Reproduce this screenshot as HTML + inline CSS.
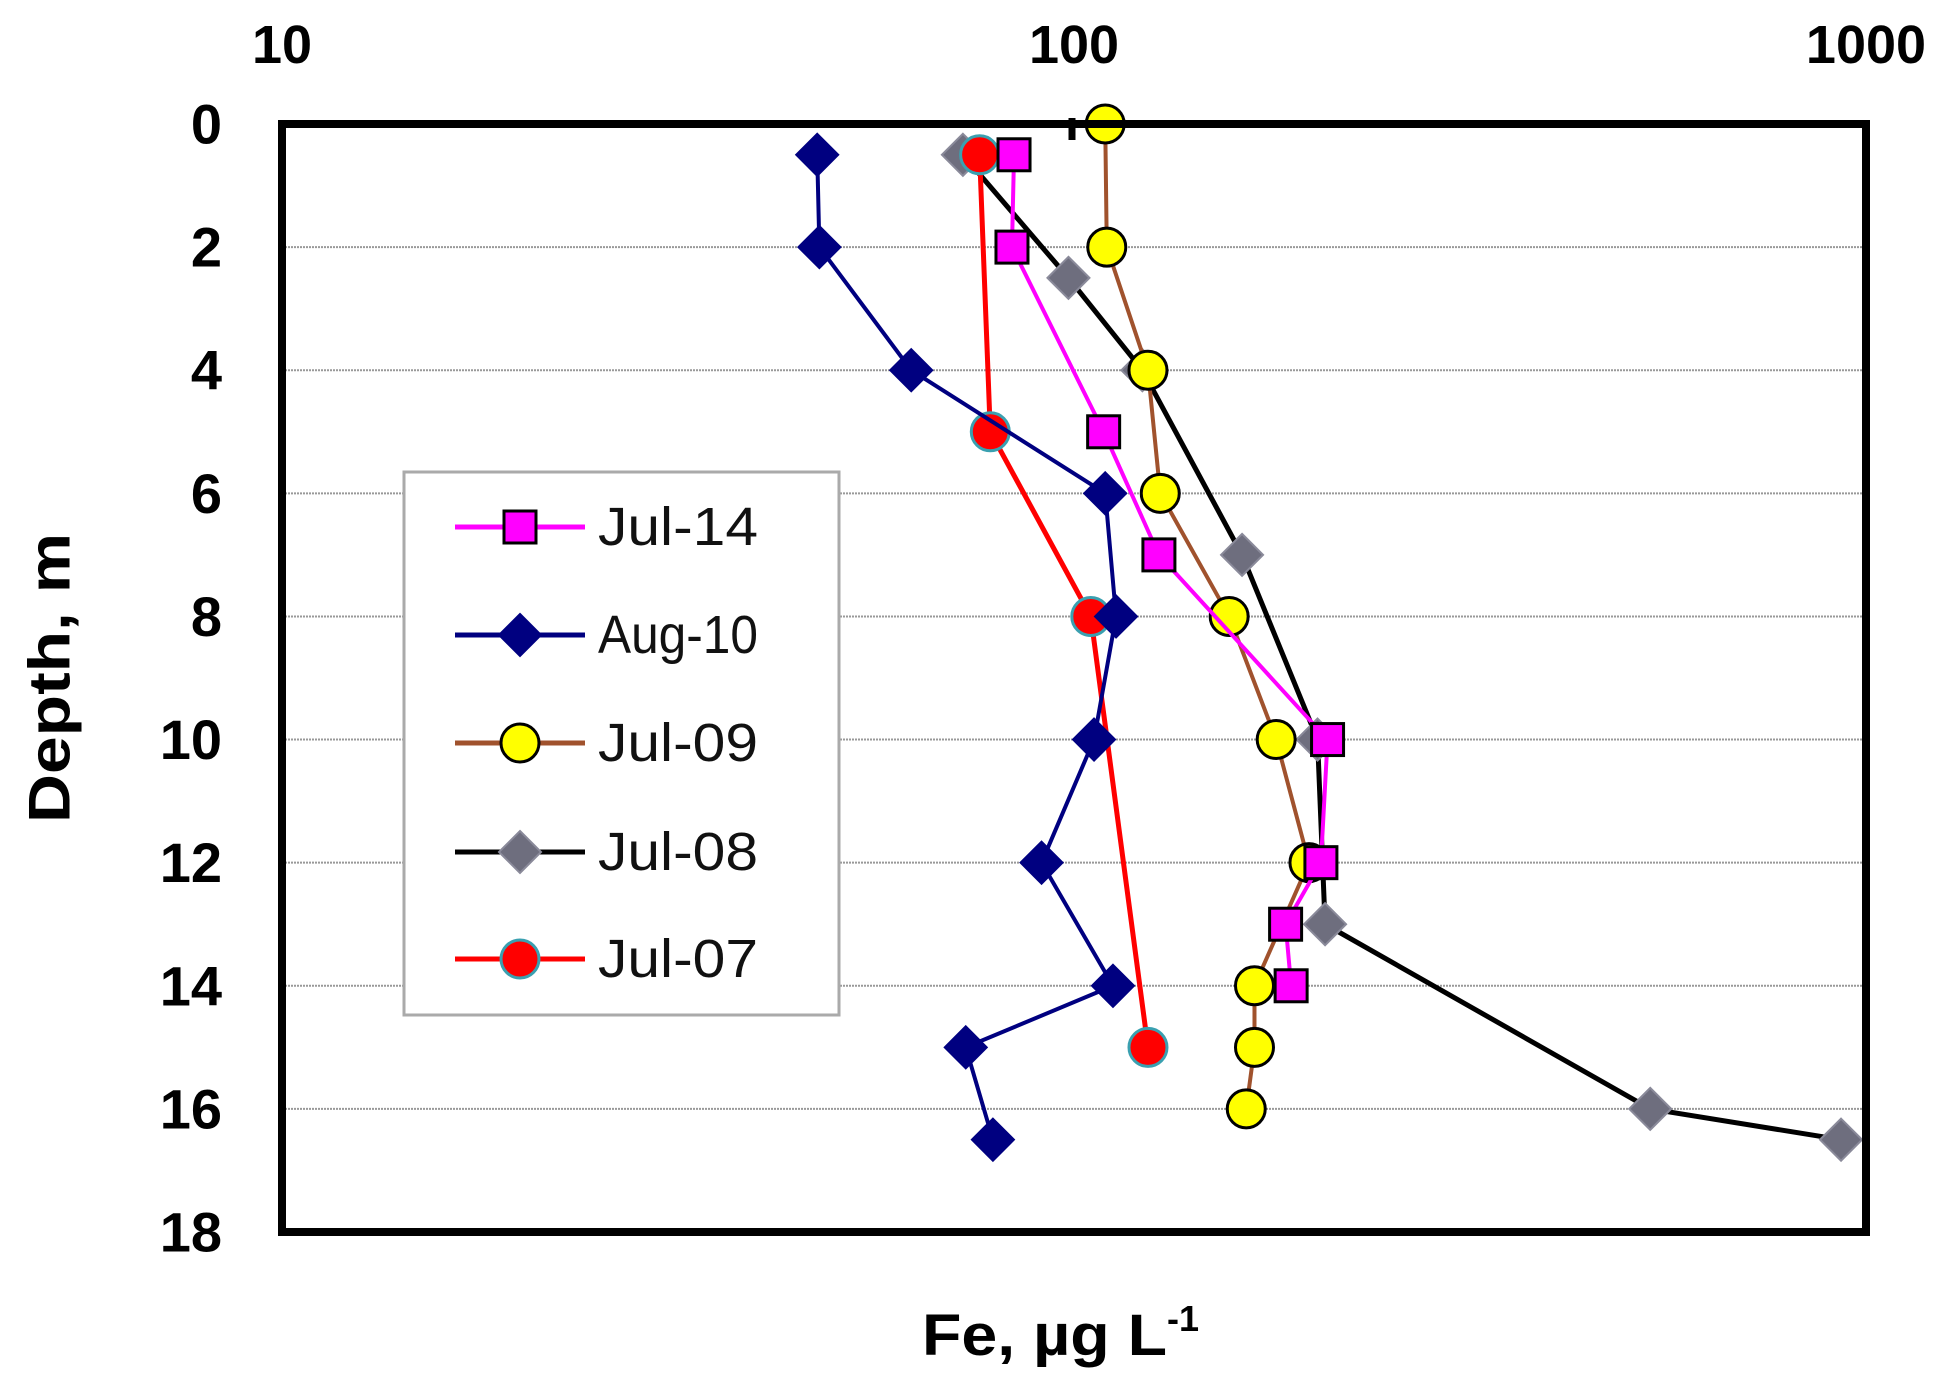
<!DOCTYPE html>
<html><head><meta charset="utf-8"><style>
html,body{margin:0;padding:0;background:#fff;}
svg{display:block;font-family:"Liberation Sans",sans-serif;}
</style></head><body>
<svg id="chart" width="1941" height="1388" viewBox="0 0 1941 1388">
<g id="grid"></g>
<g id="series"></g>
<rect x="282" y="124" width="1584" height="1108" fill="none" stroke="#000" stroke-width="8"/>
<line x1="1072" y1="118" x2="1072" y2="140" stroke="#000" stroke-width="7"/>
<g id="xticks"></g>
<g id="yticks"></g>
<text x="50" y="678" transform="rotate(-90 50 678)" text-anchor="middle" dominant-baseline="central" font-weight="bold" font-size="58" textLength="290" lengthAdjust="spacingAndGlyphs">Depth, m</text>
<text x="922" y="1355" font-weight="bold" font-size="58"><tspan textLength="245" lengthAdjust="spacingAndGlyphs">Fe, µg L</tspan><tspan dy="-24" font-size="36">-1</tspan></text>
<g id="legend">
<rect x="404" y="472" width="435" height="543" fill="#fff" stroke="#aaa" stroke-width="3"/>
</g>
</svg>
<script>
const xTicks = [10, 100, 1000];
const xTickLabels = ["10", "100", "1000"];
const yTicks = [0, 2, 4, 6, 8, 10, 12, 14, 16, 18];
const seriesNames = ["Jul-14", "Aug-10", "Jul-09", "Jul-08", "Jul-07"];
const jul14Depth = [0.5, 2, 5, 7, 10, 12, 13, 14];
const jul14Fe = [84, 83.5, 109, 128, 209, 205, 185, 188];
const aug10Depth = [0.5, 2, 4, 6, 8, 10, 12, 14, 15, 16.5];
const aug10Fe = [47.4, 47.7, 62.3, 109.5, 113, 106, 91, 112, 73, 79];
const jul09Depth = [0, 2, 4, 6, 8, 10, 12, 14, 15, 16];
const jul09Fe = [109.5, 110, 124, 128.5, 157, 180, 198, 169, 169, 165];
const jul08Depth = [0.5, 2.5, 4, 7, 10, 13, 16, 16.5];
const jul08Fe = [72.4, 98.4, 122, 163, 203, 207.5, 534, 930];
const jul07Depth = [0.5, 5, 8, 15];
const jul07Fe = [76, 78.4, 105, 124];

const NS = "http://www.w3.org/2000/svg";
const L = 282, R = 1866, T = 124, B = 1232;
function xScale(v){ return L + (Math.log10(v) - 1) / 2 * (R - L); }
function yScale(d){ return T + d / 18 * (B - T); }
function mk(tag, attrs, parent){ const e = document.createElementNS(NS, tag); for (const k in attrs) e.setAttribute(k, attrs[k]); parent.appendChild(e); return e; }

const grid = document.getElementById('grid');
const yt = document.getElementById('yticks');
yTicks.forEach(d => {
  if (d > 0 && d < 18) {
    const g = mk('line', {x1: L, x2: R, y1: yScale(d), y2: yScale(d), stroke: '#999', 'stroke-width': 2, 'stroke-dasharray': '2 1'}, grid);
    
    
  }
  const t = mk('text', {x: 222, y: yScale(d), 'text-anchor': 'end', 'dominant-baseline': 'central', 'font-weight': 'bold', 'font-size': 56}, yt);
  t.textContent = String(d);
  
  
});
const xt = document.getElementById('xticks');
xTicks.forEach((v, i) => {
  const t = mk('text', {x: xScale(v), y: 45, 'text-anchor': 'middle', 'dominant-baseline': 'central', 'font-weight': 'bold', 'font-size': 54}, xt);
  t.textContent = xTickLabels[i];
  
  
});

const styles = [
  {line: '#ff00ff', w: 4, marker: 'square', fill: '#ff00ff', stroke: '#000'},
  {line: '#000080', w: 4, marker: 'diamond', fill: '#000080', stroke: '#000080'},
  {line: '#a0522d', w: 4, marker: 'circle', fill: '#ffff00', stroke: '#000'},
  {line: '#000', w: 5, marker: 'diamond', fill: '#6e6e7e', stroke: '#8a8a9a'},
  {line: '#ff0000', w: 5, marker: 'circle', fill: '#ff0000', stroke: '#3aa0b0'}
];
const data = [[jul14Fe, jul14Depth], [aug10Fe, aug10Depth], [jul09Fe, jul09Depth], [jul08Fe, jul08Depth], [jul07Fe, jul07Depth]];
function marker(type, cx, cy, st, parent){
  let e;
  if (type === 'square') e = mk('rect', {x: cx - 16, y: cy - 16, width: 32, height: 32, fill: st.fill, stroke: st.stroke, 'stroke-width': 3}, parent);
  else if (type === 'circle') e = mk('circle', {cx: cx, cy: cy, r: 19, fill: st.fill, stroke: st.stroke, 'stroke-width': 3}, parent);
  else e = mk('polygon', {points: `${cx},${cy-21} ${cx+21},${cy} ${cx},${cy+21} ${cx-21},${cy}`, fill: st.fill, stroke: st.stroke, 'stroke-width': 2}, parent);
  return e;
}
const sg = document.getElementById('series');
const order = [3, 4, 1, 2, 0];
order.forEach(i => {
  const [fe, dep] = data[i];
  const st = styles[i];
  const g = mk('g', {}, sg);
  
  
  const pts = fe.map((v, k) => xScale(v) + ',' + yScale(dep[k])).join(' ');
  const pl = mk('polyline', {points: pts, fill: 'none', stroke: st.line, 'stroke-width': st.w}, g);
  
  
  fe.forEach((v, k) => {
    const m = marker(st.marker, xScale(v), yScale(dep[k]), st, g);
    
    
  });
});

const lg = document.getElementById('legend');
const rowY = [527, 635, 743, 852, 959];
seriesNames.forEach((n, i) => {
  const st = styles[i];
  const g = mk('g', {}, lg);
  
  
  mk('line', {x1: 455, x2: 585, y1: rowY[i], y2: rowY[i], stroke: st.line, 'stroke-width': 5}, g);
  marker(st.marker, 520, rowY[i], st, g);
  const t = mk('text', {x: 598, y: rowY[i], 'dominant-baseline': 'central', 'font-size': 54, textLength: 160, lengthAdjust: 'spacingAndGlyphs', fill: '#111'}, g);
  t.textContent = n;
});
</script>
</body></html>
